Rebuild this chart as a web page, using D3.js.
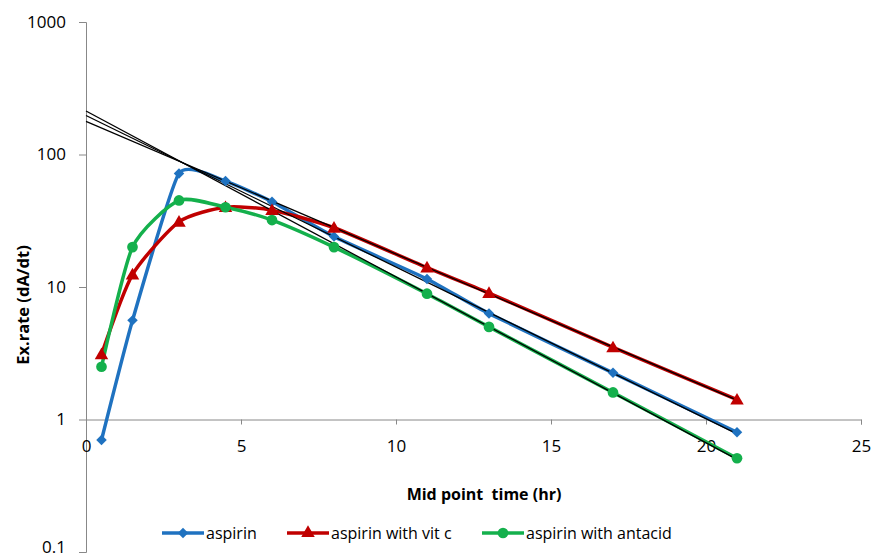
<!DOCTYPE html>
<html>
<head>
<meta charset="utf-8">
<script src="https://cdn.jsdelivr.net/npm/d3@7"></script>
<style>
  body { margin: 0; background: #fff; }
  text { font-family: "Open Sans", "Liberation Sans", sans-serif; fill: #000; }
</style>
</head>
<body>
<div id="chart"></div>
<script>
// mid point times (hr)
const times = [0.5, 1.5, 3, 4.5, 6, 8, 11, 13, 17, 21];

const aspirin = [0.7, 5.6, 72, 63, 44, 24, 11.5, 6.3, 2.25, 0.8];
const aspirinVitC = [3.1, 12.4, 31, 40, 38, 28, 14, 9.0, 3.5, 1.41];
const aspirinAntacid = [2.5, 20, 45, 40, 32, 20, 8.9, 5.0, 1.6, 0.51];

// terminal-phase trend lines: value at t=0 and at t=21
const trendTimes = [0, 21];
const trendAspirin = [197, 0.78];
const trendVitC = [178, 1.4];
const trendAntacid = [213, 0.5];

const yTicks = [0.1, 1, 10, 100, 1000];
const xTicks = [0, 5, 10, 15, 20, 25];

const series = [
  { name: "aspirin", values: aspirin, trend: trendAspirin, color: "#1f72c0", marker: "diamond", tension: 0.5 },
  { name: "aspirin with vit c", values: aspirinVitC, trend: trendVitC, color: "#c00000", marker: "triangle", tension: 0.35 },
  { name: "aspirin with antacid", values: aspirinAntacid, trend: trendAntacid, color: "#14b04c", marker: "circle", tension: 0.35 },
];

const W = 875, H = 559;
const svg = d3.select("#chart").append("svg").attr("width", W).attr("height", H);

const x = d3.scaleLinear().domain([0, 25]).range([86, 861]);
const y = d3.scaleLog().domain([0.1, 1000]).range([552, 22]);

const axisColor = "#888";

// y axis
const yAxisG = svg.append("g").attr("transform", `translate(${x(0)},0)`)
  .call(d3.axisLeft(y).tickValues(yTicks).tickFormat(d => String(d)).tickSize(7).tickPadding(13));
// x axis crosses at 1
const xAxisG = svg.append("g").attr("transform", `translate(0,${y(1)})`)
  .call(d3.axisBottom(x).tickValues(xTicks).tickFormat(d3.format("d")).tickSize(5).tickPadding(15));

[yAxisG, xAxisG].forEach(g => {
  g.select(".domain").attr("stroke", axisColor);
  g.selectAll(".tick line").attr("stroke", axisColor);
  g.selectAll(".tick text").style("font-size", "17px").attr("fill", "#000");
});
// keep the bottom label inside the page
yAxisG.selectAll(".tick text").filter(d => d === 0.1).attr("dy", "0em");

// axis titles
svg.append("text").attr("x", 484).attr("y", 500).attr("text-anchor", "middle")
  .style("font-size", "16px").style("font-weight", "bold").style("white-space", "pre")
  .text("Mid point  time (hr)");
svg.append("text").attr("transform", `translate(29,305) rotate(-90)`).attr("text-anchor", "middle")
  .style("font-size", "16.5px").style("font-weight", "bold").text("Ex.rate (dA/dt)");

const straight = d3.line().x(d => x(d[0])).y(d => y(d[1]));

function markerPath(type, size) {
  const sym = type === "diamond" ? d3.symbolDiamond2 : type === "triangle" ? d3.symbolTriangle2 : d3.symbolCircle;
  return d3.symbol().type(sym).size(size)();
}
const markerSize = { diamond: 70, triangle: 130, circle: 90 };

// series lines
series.forEach(s => {
  const line = d3.line().x(d => x(d[0])).y(d => y(d[1])).curve(d3.curveCardinal.tension(s.tension));
  svg.append("path").datum(times.map((t, i) => [t, s.values[i]]))
    .attr("d", line).attr("fill", "none").attr("stroke", s.color).attr("stroke-width", 3.5);
});

// trend lines
series.forEach(s => {
  svg.append("path").datum(trendTimes.map((t, i) => [t, s.trend[i]]))
    .attr("d", straight).attr("fill", "none").attr("stroke", "#000").attr("stroke-width", 1.3);
});

// markers
series.forEach(s => {
  svg.append("g").selectAll("path").data(times.map((t, i) => [t, s.values[i]]))
    .join("path")
    .attr("transform", d => `translate(${x(d[0])},${y(d[1]) + (s.marker === "triangle" ? 1 : 0)})`)
    .attr("d", markerPath(s.marker, markerSize[s.marker]))
    .attr("fill", s.color);
});

// legend
const legendY = 533;
const legendX = [162, 287, 482];
series.forEach((s, i) => {
  const g = svg.append("g").attr("transform", `translate(${legendX[i]},${legendY})`);
  g.append("line").attr("x1", 0).attr("x2", 42).attr("stroke", s.color).attr("stroke-width", 3.5);
  g.append("path").attr("transform", "translate(21,0)").attr("d", markerPath(s.marker, markerSize[s.marker])).attr("fill", s.color);
  g.append("text").attr("x", 44).attr("dy", "0.35em").style("font-size", "16px").text(s.name);
});
</script>
</body>
</html>
